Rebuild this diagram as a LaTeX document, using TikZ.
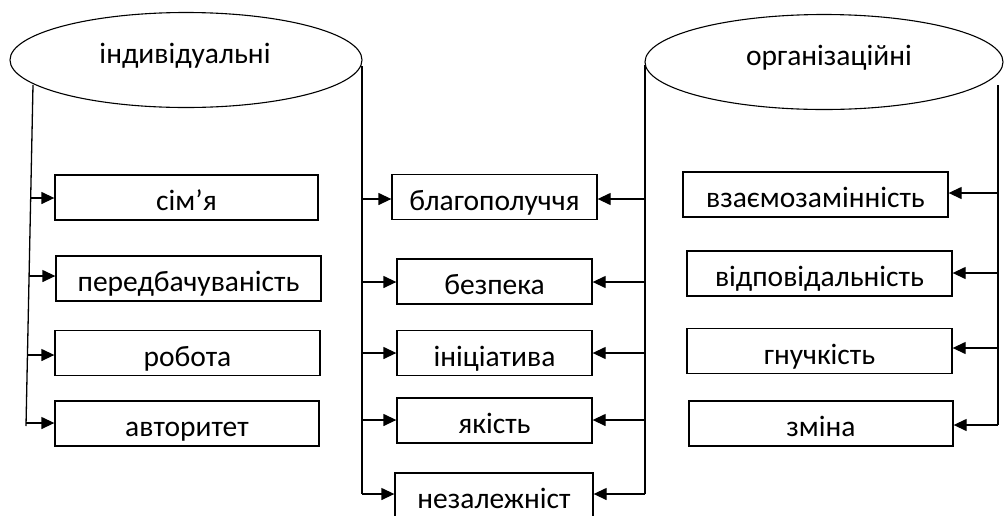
\documentclass[tikz,border=0pt]{standalone}
\usepackage{fontspec}
\setmainfont{Carlito}
\usetikzlibrary{arrows.meta,shapes.geometric}
\begin{document}
\begin{tikzpicture}[x=1pt,y=-1pt,
  every node/.style={font=\fontsize{29.5}{34}\selectfont},
  catell/.style={draw,ellipse,line width=1.1pt,inner sep=0pt},
  cattext/.style={anchor=base,inner sep=0pt},
  itembox/.style={draw,line width=1.3pt,inner sep=0pt,minimum height=45pt,text height=35.5pt,text depth=9.5pt},
  trunk/.style={line width=1.3pt},
  arr/.style={line width=1.3pt,-{Triangle[length=13pt,width=12pt]}}]
\useasboundingbox (0,0) rectangle (1004,515);
% ellipses
\node[catell,minimum width=352pt,minimum height=95pt] (ind) at (186,60) {};
\node[cattext] (indt) at (185,63) {індивідуальні};
\node[catell,minimum width=358pt,minimum height=95pt] (org) at (824,62) {};
\node[cattext] (orgt) at (829,65) {організаційні};
% left boxes
\node[itembox,minimum width=263pt] (s1) at (186.5,197.5) {сім’я};
\node[itembox,minimum width=265pt] (s2) at (188.5,278.5) {передбачуваність};
\node[itembox,minimum width=265pt] (s3) at (187.5,353) {робота};
\node[itembox,minimum width=264pt] (s4) at (187,423.5) {авторитет};
% middle boxes
\node[itembox,minimum width=205pt] (m1) at (494.5,197) {благополуччя};
\node[itembox,minimum width=195pt] (m2) at (494.5,281.5) {безпека};
\node[itembox,minimum width=195pt] (m3) at (494.5,353) {ініціатива};
\node[itembox,minimum width=195pt] (m4) at (494.5,420.5) {якість};
\node[itembox,minimum width=198pt] (m5) at (494,495.5) {незалежніст};
% right boxes
\node[itembox,minimum width=265pt] (r1) at (815.5,194.5) {взаємозамінність};
\node[itembox,minimum width=265pt] (r2) at (819.5,273.5) {відповідальність};
\node[itembox,minimum width=265pt] (r3) at (819.5,351) {гнучкість};
\node[itembox,minimum width=264pt] (r4) at (821,423.5) {зміна};
% trunk coordinates
\coordinate (lt) at (33,85);
\coordinate (lb) at (26,426);
\coordinate (l1) at (30.7,198);
\coordinate (l2) at (29,276);
\coordinate (l3) at (27.5,355);
\coordinate (l4) at (26.2,423);
\coordinate (mlt) at (362,66);
\coordinate (mlb) at (362,494);
\coordinate (mrt) at (645,65);
\coordinate (mrb) at (645,494);
\coordinate (rt) at (998,85);
\coordinate (rb) at (998,425);
% trunks
\draw[trunk] (lt) -- (lb);
\draw[trunk] (mlt) -- (mlb);
\draw[trunk] (mrt) -- (mrb);
\draw[trunk] (rt) -- (rb);
% left arrows
\draw[arr] (l1) -- (l1 -| s1.west);
\draw[arr] (l2) -- (l2 -| s2.west);
\draw[arr] (l3) -- (l3 -| s3.west);
\draw[arr] (l4) -- (l4 -| s4.west);
% middle arrows from both trunks
\foreach \b/\y in {m1/199,m2/282,m3/353,m4/420,m5/494}{
  \draw[arr] (mlt |- 0,\y) -- (\b.west |- 0,\y);
  \draw[arr] (mrt |- 0,\y) -- (\b.east |- 0,\y);
}
% right arrows
\foreach \b/\y in {r1/193,r2/273,r3/348,r4/425}{
  \draw[arr] (rt |- 0,\y) -- (\b.east |- 0,\y);
}
\end{tikzpicture}
\end{document}
